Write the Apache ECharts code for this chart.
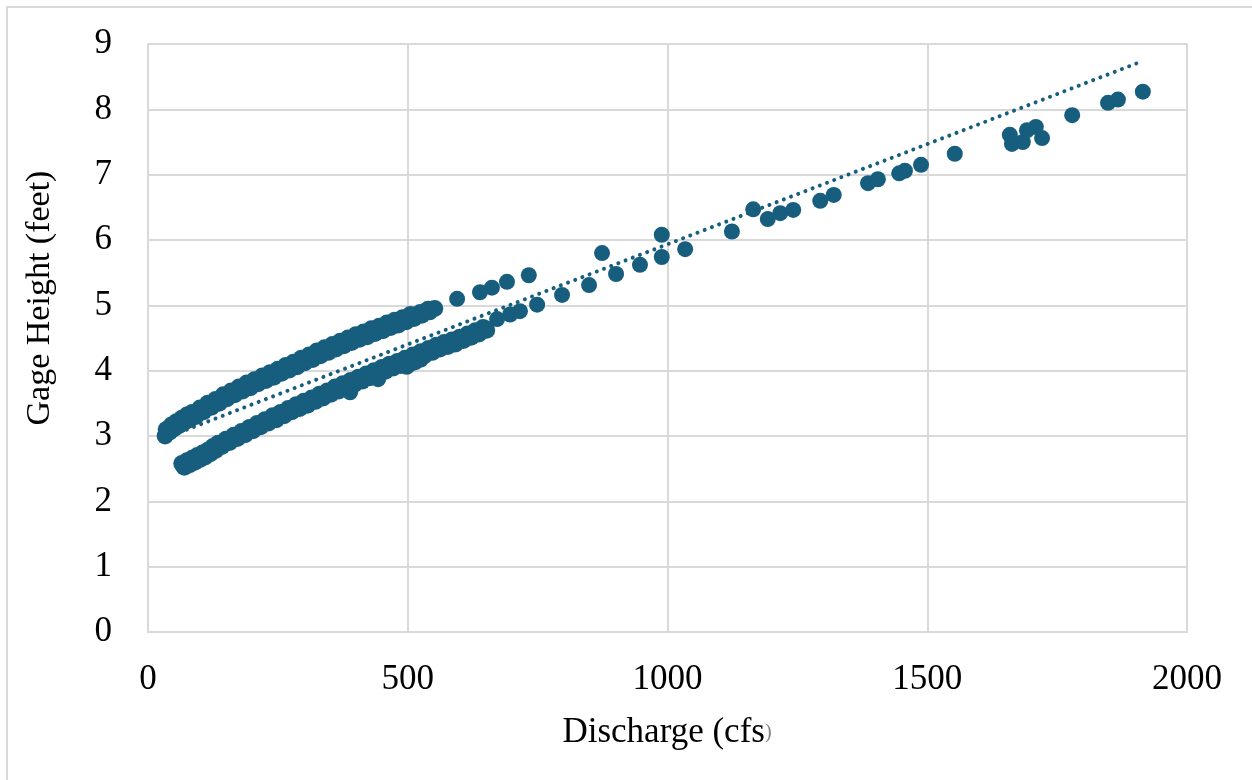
<!DOCTYPE html>
<html>
<head>
<meta charset="utf-8">
<script src="https://cdn.jsdelivr.net/npm/echarts@6/dist/echarts.min.js"></script>
<style>
html,body{margin:0;padding:0;background:#fff;}
#chart{width:1252px;height:780px;}
</style>
</head>
<body>
<div id="chart"></div>
<script>
// ---- data (Discharge cfs, Gage Height feet) ----
var xTicks = [0, 500, 1000, 1500, 2000];
var yTicks = [0, 1, 2, 3, 4, 5, 6, 7, 8, 9];

var upperBandTop = [[35,3.10],[45,3.17],[55,3.22],[65,3.27],[75,3.32],[85,3.36],[100,3.43],[115,3.50],[130,3.56],[145,3.63],[160,3.69],[175,3.75],[190,3.81],[205,3.86],[220,3.92],[235,3.97],[250,4.02],[265,4.08],[280,4.13],[295,4.19],[310,4.24],[325,4.30],[340,4.35],[355,4.40],[370,4.45],[385,4.50],[400,4.55],[415,4.59],[430,4.64],[445,4.68],[460,4.73],[475,4.77],[490,4.81],[505,4.86]];
var upperBandMiddle = [[38,3.08],[48,3.14],[58,3.19],[68,3.24],[78,3.29],[90,3.34],[104,3.41],[119,3.47],[134,3.54],[149,3.60],[164,3.66],[179,3.73],[194,3.78],[209,3.84],[224,3.89],[239,3.94],[254,4.00],[269,4.05],[284,4.11],[299,4.16],[314,4.22],[329,4.27],[344,4.32],[359,4.37],[374,4.42],[389,4.47],[404,4.52],[419,4.56],[434,4.61],[449,4.65],[464,4.70],[479,4.74],[494,4.79],[509,4.84],[524,4.89],[539,4.94]];
var upperBandBottom = [[33,3.00],[42,3.06],[50,3.11],[60,3.16],[70,3.21],[80,3.25],[92,3.30],[107,3.37],[122,3.44],[137,3.50],[152,3.57],[167,3.63],[182,3.69],[197,3.74],[212,3.80],[227,3.85],[242,3.90],[257,3.96],[272,4.01],[287,4.06],[302,4.12],[317,4.17],[332,4.23],[347,4.28],[362,4.33],[377,4.38],[392,4.43],[407,4.48],[422,4.52],[437,4.57],[452,4.61],[467,4.66],[482,4.70],[497,4.75],[512,4.80],[527,4.85],[542,4.90],[552,4.95]];
var upperScattered = [[595,5.10],[639,5.20],[662,5.27],[691,5.36],[733,5.46],[874,5.80],[989,6.08]];

var lowerBandTop = [[65,2.58],[75,2.62],[85,2.66],[95,2.70],[105,2.74],[115,2.78],[125,2.84],[135,2.89],[150,2.95],[165,3.01],[180,3.07],[195,3.13],[210,3.19],[225,3.25],[240,3.31],[255,3.36],[270,3.42],[285,3.48],[300,3.53],[315,3.58],[330,3.64],[345,3.69],[360,3.75],[375,3.80],[390,3.85],[405,3.90],[420,3.95],[435,4.00],[450,4.05],[465,4.10],[480,4.14],[495,4.19],[510,4.24],[525,4.29],[540,4.34],[555,4.39],[570,4.43],[585,4.47],[600,4.51],[615,4.56],[630,4.61],[645,4.66]];
var lowerBandMiddle = [[68,2.55],[78,2.59],[88,2.63],[98,2.67],[108,2.71],[118,2.76],[128,2.81],[140,2.87],[155,2.93],[170,2.99],[185,3.05],[200,3.11],[215,3.17],[230,3.23],[245,3.29],[260,3.34],[275,3.40],[290,3.46],[305,3.51],[320,3.56],[335,3.62],[350,3.67],[365,3.73],[380,3.78],[395,3.83],[410,3.88],[425,3.93],[440,3.98],[455,4.03],[470,4.08],[485,4.12],[500,4.17],[515,4.22],[530,4.27],[545,4.32],[560,4.37],[575,4.41],[590,4.45],[605,4.49],[620,4.54],[635,4.59],[650,4.64]];
var lowerBandBottom = [[70,2.52],[80,2.56],[90,2.60],[100,2.64],[110,2.68],[120,2.73],[130,2.78],[142,2.84],[157,2.90],[172,2.96],[187,3.02],[202,3.08],[217,3.14],[232,3.20],[247,3.25],[262,3.31],[277,3.37],[292,3.42],[307,3.47],[322,3.53],[337,3.58],[352,3.64],[367,3.69],[382,3.74],[397,3.79],[412,3.84],[427,3.89],[442,3.94],[457,3.99],[472,4.04],[487,4.08],[502,4.13],[517,4.18],[532,4.23],[547,4.28],[562,4.33],[577,4.37],[592,4.41],[607,4.46],[622,4.51],[637,4.56],[652,4.62]];
var lowerOutliers = [[389,3.67],[443,3.87],[498,4.06],[505,4.10],[515,4.13],[525,4.17]];
var lowerScattered = [[672,4.79],[697,4.86],[716,4.91],[749,5.01],[797,5.16],[849,5.31],[901,5.48],[947,5.62],[989,5.74],[1034,5.86],[1124,6.13],[1165,6.47],[1193,6.32],[1217,6.41],[1242,6.46],[1294,6.60],[1320,6.69],[1386,6.87],[1405,6.93],[1446,7.02],[1457,7.06],[1488,7.15],[1553,7.32],[1659,7.61],[1663,7.47],[1684,7.50],[1692,7.68],[1709,7.73],[1721,7.56],[1779,7.91],[1848,8.10],[1867,8.15],[1915,8.27]];

var trendLine = [[33,2.97],[1915,8.74]];

var xTitle = 'Discharge (cfs';
var xTitleEnd = ')';
var yTitle = 'Gage Height (feet)';

// ---- chart ----
var FONT = "'Liberation Serif','Times New Roman',serif";
var COLOR = '#175e7e';
var GRID = '#d9d9d9';

var bandPoints = [].concat(upperBandTop, upperBandMiddle, upperBandBottom, lowerBandTop, lowerBandMiddle, lowerBandBottom);
var loosePoints = [].concat(upperScattered, lowerOutliers, lowerScattered);

var chart = echarts.init(document.getElementById('chart'), null, {renderer:'canvas'});
chart.setOption({
  animation: false,
  backgroundColor: '#ffffff',
  grid: {left:148, top:44, right:65, bottom:148, show:true, borderColor:GRID, borderWidth:2, backgroundColor:'transparent'},
  xAxis: {
    type:'value', min:xTicks[0], max:xTicks[xTicks.length-1], interval:500,
    axisLine:{show:true, lineStyle:{color:GRID, width:2}},
    axisTick:{show:false},
    splitLine:{show:true, lineStyle:{color:GRID, width:2}},
    axisLabel:{color:'#000', fontFamily:FONT, fontSize:35, margin:30, formatter:function(v){return String(v);}}
  },
  yAxis: {
    type:'value', min:yTicks[0], max:yTicks[yTicks.length-1], interval:1,
    axisLine:{show:true, lineStyle:{color:GRID, width:2}},
    axisTick:{show:false},
    splitLine:{show:true, lineStyle:{color:GRID, width:2}},
    axisLabel:{color:'#000', fontFamily:FONT, fontSize:35, margin:36, formatter:function(v){return String(v);}}
  },
  graphic: [
    {type:'rect', shape:{x:7, y:7, width:1300, height:900}, style:{fill:'none', stroke:GRID, lineWidth:2}, silent:true, z:-10},
    {type:'text', x:667, y:733, style:{text:xTitle + '{s|' + xTitleEnd + '}', font:'35px ' + FONT, fill:'#000', align:'center', verticalAlign:'middle',
      rich:{s:{fontSize:20, fontFamily:FONT, fill:'#808080', color:'#808080'}}}},
    {type:'text', x:40, y:298, rotation:Math.PI/2, style:{text:yTitle, font:'34px ' + FONT, fill:'#000', align:'center', verticalAlign:'middle'}}
  ],
  series: [
    {type:'line', data:trendLine, symbol:'none', silent:true, z:2,
      lineStyle:{color:COLOR, width:4, type:[0.01, 7.7], cap:'round'}},
    {type:'scatter', data:bandPoints, symbol:'circle', symbolSize:17, z:3,
      itemStyle:{color:COLOR, opacity:1}},
    {type:'scatter', data:loosePoints, symbol:'circle', symbolSize:16, z:3,
      itemStyle:{color:COLOR, opacity:1}}
  ]
});
</script>
</body>
</html>
